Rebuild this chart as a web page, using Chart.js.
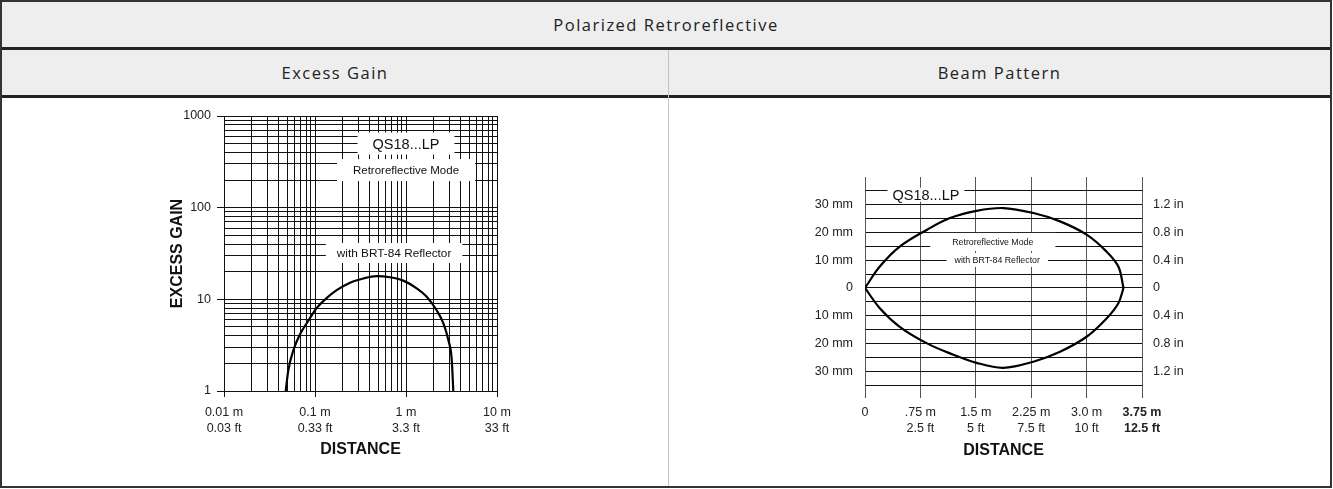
<!DOCTYPE html>
<html lang="en">
<head>
<meta charset="UTF-8">
<title>Polarized Retroreflective</title>
<style>
  body { margin: 0; background: #fff; font-family: 'Open Sans', sans-serif; color: #222; }
  .outer { position: absolute; left: 0; top: 0; width: 1332px; height: 488px; border: 2px solid #333; box-sizing: border-box; }
  .band { position: absolute; background: #eeeeee; height: 45px; line-height: 45px; text-align: center; font-size: 16.5px; letter-spacing: 1.5px; }
  .rule { position: absolute; left: 2px; width: 1328px; height: 3px; background: #222; }
  .divider { position: absolute; left: 668px; top: 50px; width: 1px; height: 436px; background: #c4c4c4; }
  canvas { position: absolute; }
</style>
</head>
<body>
  <div class="outer"></div>
  <div class="band" style="left:2px; top:2px; width:1328px;">Polarized Retroreflective</div>
  <div class="rule" style="top:47px"></div>
  <div class="band" style="left:2px; top:50px; width:666px;">Excess Gain</div>
  <div class="band" style="left:669px; top:50px; width:661px;">Beam Pattern</div>
  <div class="rule" style="top:95px"></div>
  <div class="divider"></div>
  <canvas id="gainChart" width="666" height="388" style="left:2px; top:98px"></canvas>
  <canvas id="beamChart" width="661" height="388" style="left:669px; top:98px"></canvas>

  <script src="https://cdn.jsdelivr.net/npm/chart.js"></script>
  <script>
    // excess gain curve (distance in m, gain)
    const gainDistance = [0.0476, 0.051, 0.058, 0.068, 0.085, 0.104, 0.134, 0.173, 0.243, 0.34, 0.476, 0.667, 0.934, 1.31, 1.69, 2.17, 2.57, 2.92, 3.18, 3.31];
    const gainValue    = [1.0, 1.7, 2.8, 4.1, 5.9, 8.0, 10.3, 12.6, 15.2, 16.9, 17.9, 17.4, 16.0, 13.2, 10.7, 7.6, 5.5, 3.6, 2.2, 1.0];
    const gainXDecades = [0.01, 0.1, 1, 10];
    const gainXLabelsM = ['0.01 m', '0.1 m', '1 m', '10 m'];
    const gainXLabelsFt = ['0.03 ft', '0.33 ft', '3.3 ft', '33 ft'];
    const gainYDecades = [1, 10, 100, 1000];
    const gainYLabels = ['1', '10', '100', '1000'];
    const logSteps = [1, 2, 3, 4, 5, 6, 7, 8, 9];

    // beam pattern (distance in m, half width in mm)
    const beamDistance = [0, 0.2, 0.47, 0.84, 1.15, 1.51, 1.87, 2.28, 2.64, 3.0, 3.27, 3.43, 3.5];
    const beamUpper    = [0, 7.7, 14.9, 21.0, 25.2, 27.8, 28.8, 27.0, 24.0, 19.2, 13.1, 7.7, 0];
    const beamLower    = [0, -7.3, -14.0, -20.0, -23.6, -27.0, -28.8, -26.6, -23.0, -17.6, -11.0, -5.5, 0];
    const beamXTicks = [0, 0.75, 1.5, 2.25, 3.0, 3.75];
    const beamXLabelsM = ['0', '.75 m', '1.5 m', '2.25 m', '3.0 m', '3.75 m'];
    const beamXLabelsFt = ['', '2.5 ft', '5 ft', '7.5 ft', '10 ft', '12.5 ft'];
    const beamYGrid = [-35, -30, -25, -20, -15, -10, -5, 0, 5, 10, 15, 20, 25, 30, 35];
    const beamYTicks = [30, 20, 10, 0, -10, -20, -30];
    const beamYLabelsMm = ['30 mm', '20 mm', '10 mm', '0', '10 mm', '20 mm', '30 mm'];
    const beamYLabelsIn = ['1.2 in', '0.8 in', '0.4 in', '0', '0.4 in', '0.8 in', '1.2 in'];

    const SANS = "'Liberation Sans', Arial, sans-serif";
    const INK = '#111';

    function logGrid(decades) {
      const out = [];
      for (let i = 0; i < decades.length - 1; i++) {
        logSteps.forEach(s => out.push(decades[i] * s));
      }
      out.push(decades[decades.length - 1]);
      return out;
    }
    function findIdx(v, list) {
      return list.findIndex(d => Math.abs(v - d) < 1e-9 || (d !== 0 && Math.abs(v / d - 1) < 1e-6));
    }

    // white boxed captions placed in data space
    function boxedLabels(items) {
      return {
        id: 'boxedLabels',
        beforeDatasetsDraw(chart) {
          const ctx = chart.ctx;
          items.forEach(it => {
            const x = chart.scales.x.getPixelForValue(it.x);
            const y = chart.scales.y.getPixelForValue(it.y);
            ctx.save();
            ctx.font = it.font;
            const w = ctx.measureText(it.text).width + it.padX * 2;
            ctx.fillStyle = '#fff';
            ctx.fillRect(x - w / 2, y - it.h / 2, w, it.h);
            ctx.fillStyle = INK;
            ctx.textAlign = 'center';
            ctx.textBaseline = 'middle';
            ctx.fillText(it.text, x, y + 1);
            ctx.restore();
          });
        }
      };
    }

    const tickFont = { family: SANS, size: 12.5, lineHeight: 1.3 };
    const titleFont = { family: SANS, size: 16, weight: 'bold' };

    new Chart(document.getElementById('gainChart'), {
      type: 'line',
      data: {
        datasets: [{
          data: gainDistance.map((d, i) => ({ x: d, y: gainValue[i] })),
          borderColor: '#000',
          borderWidth: 2.2,
          pointRadius: 0,
          cubicInterpolationMode: 'monotone',
          fill: false
        }]
      },
      options: {
        responsive: false,
        animation: false,
        layout: { padding: { left: 162, right: 171, top: 18, bottom: 15 } },
        plugins: { legend: { display: false }, tooltip: { enabled: false } },
        scales: {
          x: {
            type: 'logarithmic',
            min: 0.01,
            max: 10,
            afterBuildTicks: s => { s.ticks = logGrid(gainXDecades).map(v => ({ value: v })); },
            afterFit: s => { s.height = 80; },
            grid: {
              color: INK,
              lineWidth: 1,
              tickLength: 6,
              tickColor: c => (c.tick && findIdx(c.tick.value, gainXDecades) >= 0) ? INK : 'rgba(0,0,0,0)'
            },
            border: { color: INK },
            ticks: {
              autoSkip: false,
              maxRotation: 0,
              padding: 7,
              color: '#222',
              font: tickFont,
              callback: v => {
                const i = findIdx(v, gainXDecades);
                return i < 0 ? '' : [gainXLabelsM[i], gainXLabelsFt[i]];
              }
            },
            title: {
              display: true,
              text: 'DISTANCE',
              color: INK,
              font: titleFont,
              padding: { top: 0, bottom: 12 }
            }
          },
          y: {
            type: 'logarithmic',
            min: 1,
            max: 1000,
            afterBuildTicks: s => { s.ticks = logGrid(gainYDecades).map(v => ({ value: v })); },
            afterFit: s => { s.width = 60; },
            grid: {
              color: INK,
              lineWidth: 1,
              tickLength: 7,
              tickColor: c => (c.tick && findIdx(c.tick.value, gainYDecades) >= 0) ? INK : 'rgba(0,0,0,0)'
            },
            border: { color: INK },
            ticks: {
              autoSkip: false,
              padding: 6,
              color: '#222',
              font: tickFont,
              callback: v => {
                const i = findIdx(v, gainYDecades);
                return i < 0 ? '' : gainYLabels[i];
              }
            },
            title: {
              display: true,
              text: 'EXCESS GAIN',
              color: INK,
              font: titleFont,
              padding: { top: 4, bottom: 0 }
            }
          }
        }
      },
      plugins: [boxedLabels([
        { text: 'QS18...LP', x: 1, y: 500, font: '14.5px ' + SANS, padX: 15, h: 22 },
        { text: 'Retroreflective Mode', x: 1, y: 257, font: '11.5px ' + SANS, padX: 16, h: 22 },
        { text: 'with BRT-84 Reflector', x: 0.74, y: 32, font: '11.8px ' + SANS, padX: 11, h: 20 }
      ])]
    });

    new Chart(document.getElementById('beamChart'), {
      type: 'line',
      data: {
        datasets: [
          {
            data: beamDistance.map((d, i) => ({ x: d, y: beamUpper[i] })),
            borderColor: '#000', borderWidth: 2.2, pointRadius: 0,
            tension: 0.35, fill: false
          },
          {
            data: beamDistance.map((d, i) => ({ x: d, y: beamLower[i] })),
            borderColor: '#000', borderWidth: 2.2, pointRadius: 0,
            tension: 0.35, fill: false
          }
        ]
      },
      options: {
        responsive: false,
        animation: false,
        layout: { padding: { left: 136, right: 128, top: 79, bottom: 21 } },
        plugins: { legend: { display: false }, tooltip: { enabled: false } },
        scales: {
          x: {
            type: 'linear',
            min: 0,
            max: 3.75,
            afterBuildTicks: s => { s.ticks = beamXTicks.map(v => ({ value: v })); },
            afterFit: s => { s.height = 80; },
            grid: { color: '#555', lineWidth: 1, tickLength: 13, tickColor: '#555' },
            border: { color: INK },
            ticks: {
              autoSkip: false,
              maxRotation: 0,
              padding: 6,
              color: '#222',
              font: c => ({ family: SANS, size: 12.5, lineHeight: 1.3, weight: c.index === beamXTicks.length - 1 ? 'bold' : 'normal' }),
              callback: (v, i) => [beamXLabelsM[i], beamXLabelsFt[i]]
            },
            title: {
              display: true,
              text: 'DISTANCE',
              color: INK,
              font: titleFont,
              padding: { top: 0, bottom: 5 }
            }
          },
          y: {
            type: 'linear',
            min: -35,
            max: 40,
            afterBuildTicks: s => { s.ticks = beamYGrid.map(v => ({ value: v })); },
            afterFit: s => { s.width = 60; },
            grid: { color: INK, lineWidth: 1, drawTicks: false },
            border: { color: '#555' },
            ticks: {
              autoSkip: false,
              padding: 12,
              color: '#222',
              font: tickFont,
              callback: v => {
                const i = findIdx(v, beamYTicks);
                return i < 0 ? '' : beamYLabelsMm[i];
              }
            }
          },
          yr: {
            type: 'linear',
            position: 'right',
            min: -35,
            max: 40,
            afterBuildTicks: s => { s.ticks = beamYTicks.map(v => ({ value: v })); },
            afterFit: s => { s.width = 60; },
            grid: { drawOnChartArea: false, drawTicks: false },
            border: { color: '#555' },
            ticks: {
              autoSkip: false,
              padding: 11,
              color: '#222',
              font: tickFont,
              callback: (v, i) => beamYLabelsIn[i]
            }
          }
        }
      },
      plugins: [boxedLabels([
        { text: 'QS18...LP', x: 0.825, y: 33.6, font: '14.5px ' + SANS, padX: 5, h: 14 },
        { text: 'Retroreflective Mode', x: 1.73, y: 16.6, font: '8.8px ' + SANS, padX: 22, h: 18 },
        { text: 'with BRT-84 Reflector', x: 1.79, y: 10.1, font: '8.8px ' + SANS, padX: 8, h: 14 }
      ])]
    });
  </script>
</body>
</html>
